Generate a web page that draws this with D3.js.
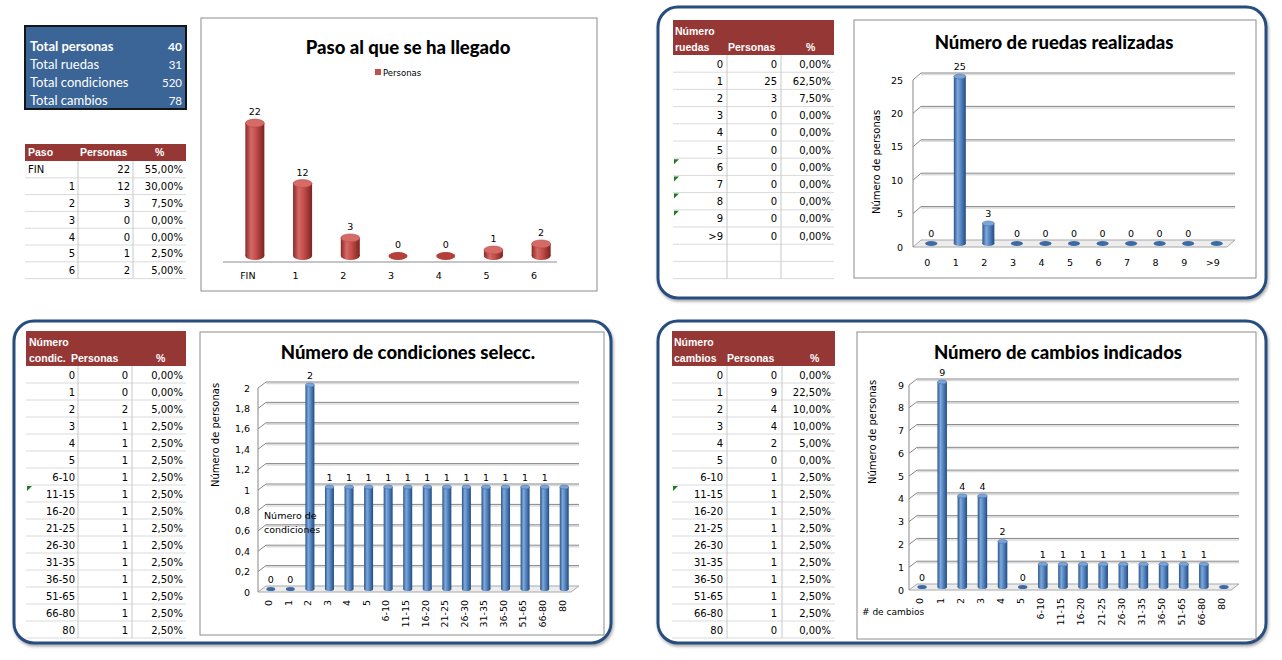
<!DOCTYPE html>
<html>
<head>
<meta charset="utf-8">
<script src="https://cdn.jsdelivr.net/npm/d3@7"></script>
<style>
body { margin: 0; background: #fff; }
svg { display: block; }
text { font-family: 'DejaVu Sans', sans-serif; fill: #000; }
</style>
</head>
<body>
<script>
// ---- data ----
const totalLabels = ['Total personas', 'Total ruedas', 'Total condiciones', 'Total cambios']
const totalValues = [40, 31, 520, 78]

const pasoCats = ['FIN', '1', '2', '3', '4', '5', '6']
const pasoPersonas = [22, 12, 3, 0, 0, 1, 2]
const pasoPct = [55, 30, 7.5, 0, 0, 2.5, 5]

const ruedasCats = ['0', '1', '2', '3', '4', '5', '6', '7', '8', '9', '>9']
const ruedasPersonas = [0, 25, 3, 0, 0, 0, 0, 0, 0, 0, 0]
const ruedasPct = [0, 62.5, 7.5, 0, 0, 0, 0, 0, 0, 0, 0]

const rangeCats = ['0', '1', '2', '3', '4', '5', '6-10', '11-15', '16-20', '21-25', '26-30', '31-35', '36-50', '51-65', '66-80', '80']
const condPersonas = [0, 0, 2, 1, 1, 1, 1, 1, 1, 1, 1, 1, 1, 1, 1, 1]
const condPct = [0, 0, 5, 2.5, 2.5, 2.5, 2.5, 2.5, 2.5, 2.5, 2.5, 2.5, 2.5, 2.5, 2.5, 2.5]
const cambiosPersonas = [0, 9, 4, 4, 2, 0, 1, 1, 1, 1, 1, 1, 1, 1, 1, 0]
const cambiosPct = [0, 22.5, 10, 10, 5, 0, 2.5, 2.5, 2.5, 2.5, 2.5, 2.5, 2.5, 2.5, 2.5, 0]

const ruedasTicks = [0, 5, 10, 15, 20, 25]
const condTicks = [0, 0.2, 0.4, 0.6, 0.8, 1, 1.2, 1.4, 1.6, 1.8, 2]
const cambiosTicks = [0, 1, 2, 3, 4, 5, 6, 7, 8, 9]

const pct = v => v.toFixed(2).replace('.', ',') + '%'
const comma = v => String(v).replace('.', ',')

const svg = d3.select('body').append('svg')
    .attr('width', 1282)
    .attr('height', 660)

const defs = svg.append('defs')

const grad = (id, stops) => {
    const lg = defs.append('linearGradient').attr('id', id)
        .attr('x1', '0%').attr('x2', '100%').attr('y1', '0%').attr('y2', '0%')
    stops.forEach(s => lg.append('stop').attr('offset', s[0]).attr('stop-color', s[1]))
}
grad('redBody', [['0%', '#8a2926'], ['30%', '#d36a66'], ['55%', '#c54f4b'], ['100%', '#7c231f']])
grad('blueBody', [['0%', '#2a5489'], ['32%', '#80a8da'], ['58%', '#5687c4'], ['100%', '#244c7e']])

const palette = {
    red: { body: 'url(#redBody)', top: '#d56b67', zero: '#b53f3b' },
    blue: { body: 'url(#blueBody)', top: '#7aa3d8', zero: '#3c6aa4' }
}

const shadow = defs.append('filter').attr('id', 'shadow')
    .attr('x', '-5%').attr('y', '-5%').attr('width', '110%').attr('height', '110%')
shadow.append('feDropShadow')
    .attr('dx', 1).attr('dy', 2).attr('stdDeviation', 1.5)
    .attr('flood-color', '#000').attr('flood-opacity', 0.35)

// ---- panels (rounded blue borders) ----
const panels = [[658, 7, 608, 291], [14, 321, 597, 322], [658, 321, 608, 322]]
svg.selectAll('.panel')
    .data(panels)
    .enter()
    .append('rect')
    .attr('class', 'panel')
    .attr('x', d => d[0]).attr('y', d => d[1])
    .attr('width', d => d[2]).attr('height', d => d[3])
    .attr('rx', 20)
    .attr('fill', '#fff')
    .attr('stroke', '#284d7e')
    .attr('stroke-width', 3)
    .attr('filter', 'url(#shadow)')

// ---- summary box ----
const box = svg.append('g')
box.append('rect')
    .attr('x', 25).attr('y', 26).attr('width', 161).attr('height', 83)
    .attr('fill', '#3b6596').attr('stroke', '#151515').attr('stroke-width', 2)

totalLabels.forEach((t, i) => {
    const yy = 51 + i * 18
    box.append('text')
        .attr('x', 30).attr('y', yy)
        .style('font-family', 'Lato, sans-serif').style('font-size', '13px')
        .style('font-weight', i === 0 ? 700 : 400)
        .style('fill', '#fff')
        .text(t)
    box.append('text')
        .attr('x', 182).attr('y', yy)
        .attr('text-anchor', 'end')
        .style('font-family', 'Lato, sans-serif').style('font-size', i === 0 ? '12px' : '11.5px')
        .style('font-weight', i === 0 ? 700 : 400)
        .style('fill', '#fff')
        .text(totalValues[i])
})

// ---- tables ----
const drawTable = cfg => {
    const g = svg.append('g')
    g.append('rect')
        .attr('x', cfg.x).attr('y', cfg.top)
        .attr('width', cfg.right - cfg.x).attr('height', cfg.hBottom - cfg.top)
        .attr('fill', '#953735')
    cfg.header.forEach(h => {
        g.append('text')
            .attr('x', h[1]).attr('y', h[2])
            .style('font-family', "'Liberation Sans', Arial, sans-serif")
            .style('font-weight', 700).style('font-size', '10.5px')
            .style('fill', '#fff')
            .text(h[0])
    })
    const n = cfg.cats.length + (cfg.extra || 0)
    const bottom = cfg.hBottom + n * cfg.rowH
    d3.range(1, n + 1).forEach(i => {
        g.append('line')
            .attr('x1', cfg.x).attr('x2', cfg.right)
            .attr('y1', cfg.hBottom + i * cfg.rowH).attr('y2', cfg.hBottom + i * cfg.rowH)
            .attr('stroke', '#dadada')
    })
    cfg.div.forEach(xx => {
        g.append('line')
            .attr('x1', xx).attr('x2', xx)
            .attr('y1', cfg.hBottom).attr('y2', bottom)
            .attr('stroke', '#c8c8c8')
    })
    cfg.cats.forEach((c, i) => {
        const yy = cfg.hBottom + i * cfg.rowH + cfg.rowH / 2 + 4
        const isText = isNaN(+c) && !/^[>0-9]/.test(c)
        g.append('text')
            .attr('x', isText ? cfg.x + 3 : cfg.cols[0])
            .attr('y', yy)
            .attr('text-anchor', isText ? 'start' : 'end')
            .style('font-size', '10px')
            .text(c)
        g.append('text')
            .attr('x', cfg.cols[1]).attr('y', yy)
            .attr('text-anchor', 'end').style('font-size', '10px')
            .text(cfg.vals[i])
        g.append('text')
            .attr('x', cfg.cols[2]).attr('y', yy)
            .attr('text-anchor', 'end').style('font-size', '10px')
            .text(pct(cfg.pcts[i]))
        if ((cfg.flags || []).includes(c)) {
            const ty = cfg.hBottom + i * cfg.rowH + 1
            g.append('path')
                .attr('d', `M${cfg.x + 1},${ty}L${cfg.x + 6},${ty}L${cfg.x + 1},${ty + 5}Z`)
                .attr('fill', '#1e7b1e')
        }
    })
}

drawTable({
    x: 25, right: 186, div: [78, 133], top: 144, hBottom: 161, rowH: 16.8,
    header: [['Paso', 28, 156], ['Personas', 80, 156], ['%', 155, 156]],
    cols: [75, 130, 183],
    cats: pasoCats, vals: pasoPersonas, pcts: pasoPct
})
drawTable({
    x: 673, right: 834, div: [727, 781], top: 20, hBottom: 55, rowH: 17.2, extra: 2,
    header: [['Número', 675, 35], ['ruedas', 675, 51], ['Personas', 728, 51], ['%', 806, 51]],
    cols: [723, 777, 831],
    cats: ruedasCats, vals: ruedasPersonas, pcts: ruedasPct,
    flags: ['6', '7', '8', '9']
})
drawTable({
    x: 26, right: 186, div: [78, 132], top: 331, hBottom: 366, rowH: 17,
    header: [['Número', 29, 346], ['condic.', 29, 362], ['Personas', 71, 362], ['%', 156, 362]],
    cols: [75, 128, 183],
    cats: rangeCats, vals: condPersonas, pcts: condPct,
    flags: ['11-15']
})
drawTable({
    x: 672, right: 835, div: [727, 782], top: 331, hBottom: 366, rowH: 17,
    header: [['Número', 674, 346], ['cambios', 674, 362], ['Personas', 727, 362], ['%', 810, 362]],
    cols: [723, 777, 831],
    cats: rangeCats, vals: cambiosPersonas, pcts: cambiosPct,
    flags: ['11-15']
})

// ---- 3D cylinder column charts ----
const drawChart = cfg => {
    const g = svg.append('g')
    g.append('rect')
        .attr('x', cfg.frame[0]).attr('y', cfg.frame[1])
        .attr('width', cfg.frame[2]).attr('height', cfg.frame[3])
        .attr('fill', '#fff').attr('stroke', '#8c8c8c')

    g.append('text')
        .attr('x', cfg.title[1]).attr('y', cfg.title[2])
        .attr('text-anchor', 'middle')
        .style('font-family', 'Lato, sans-serif').style('font-weight', 900).style('font-size', '18.5px')
        .text(cfg.title[0])

    const x = d3.scaleBand().domain(cfg.cats).range([cfg.x0, cfg.x1])
    const y = d3.scaleLinear().domain([0, cfg.yMax]).range([cfg.y0, cfg.yTop])
    const dx = cfg.dx, dy = cfg.dy

    if (cfg.ticks) {
        g.append('path')
            .attr('d', `M${cfg.x0},${cfg.y0}L${cfg.x0 + dx},${cfg.y0 + dy}L${cfg.x1 + dx},${cfg.y0 + dy}L${cfg.x1},${cfg.y0}Z`)
            .attr('fill', '#ededed').attr('stroke', '#a8a8a8')
        const grid = cfg.ticks.filter(t => t > 0)
        g.selectAll('.gridshade').data(grid).enter().append('path')
            .attr('d', t => `M${cfg.x0 + dx},${y(t) + dy + 1.5}L${cfg.x1 + dx},${y(t) + dy + 1.5}`)
            .attr('stroke', '#dcdcdc').attr('stroke-width', 1.5)
        g.selectAll('.grid').data(grid).enter().append('path')
            .attr('d', t => `M${cfg.x0},${y(t)}L${cfg.x0 + dx},${y(t) + dy}L${cfg.x1 + dx},${y(t) + dy}`)
            .attr('fill', 'none').attr('stroke', '#878787')
        g.append('line')
            .attr('x1', cfg.x0).attr('x2', cfg.x0)
            .attr('y1', cfg.y0).attr('y2', y(cfg.yMax))
            .attr('stroke', '#878787')
        g.selectAll('.tick').data(cfg.ticks).enter().append('text')
            .attr('x', cfg.tickX).attr('y', t => y(t) + 3.5)
            .attr('text-anchor', 'end').style('font-size', '9.5px')
            .text(comma)
    } else {
        g.append('line')
            .attr('x1', cfg.x0).attr('x2', cfg.x1)
            .attr('y1', cfg.y0).attr('y2', cfg.y0)
            .attr('stroke', '#8c8c8c')
    }

    const data = cfg.cats.map((c, i) => ({ c: c, v: cfg.vals[i], i: i }))
    const col = palette[cfg.color]
    const w = cfg.barW, ry = cfg.ry
    const bx = d => x(d.c) + x.bandwidth() / 2 + cfg.shift[0]
    const base = cfg.y0 + cfg.shift[1]
    const top = d => y(d.v) + cfg.shift[1]

    const bars = g.selectAll('.bar').data(data).enter().append('g')
    bars.filter(d => d.v > 0).append('ellipse')
        .attr('cx', bx).attr('cy', base).attr('rx', w / 2).attr('ry', ry)
        .attr('fill', col.body)
    bars.filter(d => d.v > 0).append('rect')
        .attr('x', d => bx(d) - w / 2).attr('y', top)
        .attr('width', w).attr('height', d => base - top(d))
        .attr('fill', col.body)
    bars.append('ellipse')
        .attr('cx', bx).attr('cy', top).attr('rx', w / 2).attr('ry', ry)
        .attr('fill', d => d.v > 0 ? col.top : col.zero)
        .attr('stroke', d => d.v > 0 ? col.zero : 'none').attr('stroke-width', 0.5)

    bars.filter(d => cfg.labelLast || d.i < data.length - 1).append('text')
        .attr('x', bx).attr('y', d => top(d) - ry - 4)
        .attr('text-anchor', 'middle').style('font-size', '9.5px')
        .text(d => d.v)

    if (cfg.rotate) {
        g.selectAll('.xl').data(cfg.cats).enter().append('text')
            .attr('transform', c => `translate(${x(c) + x.bandwidth() / 2 + 1},${cfg.labelY}) rotate(-90)`)
            .attr('text-anchor', 'end').attr('dy', '0.35em').style('font-size', '9.5px')
            .text(c => c)
    } else {
        g.selectAll('.xl').data(cfg.cats).enter().append('text')
            .attr('x', c => x(c) + x.bandwidth() / 2 + (cfg.labelShift || 0))
            .attr('y', cfg.labelY)
            .attr('text-anchor', 'middle').style('font-size', '9.5px')
            .text(c => c)
    }

    if (cfg.yTitle) {
        g.append('text')
            .attr('transform', `translate(${cfg.yTitle[1]},${cfg.yTitle[2]}) rotate(-90)`)
            .attr('text-anchor', 'middle').style('font-size', '10px')
            .text(cfg.yTitle[0])
    }
    return g
}

const c1 = drawChart({
    frame: [201, 18, 396, 273], title: ['Paso al que se ha llegado', 408, 54],
    cats: pasoCats, vals: pasoPersonas, color: 'red',
    x0: 223, x1: 557, y0: 262, yTop: 111, yMax: 25, dx: 8, dy: -6,
    shift: [8, -6], barW: 19, ry: 4, labelY: 279, labelShift: 1, labelLast: true
})
c1.append('rect').attr('x', 375).attr('y', 69).attr('width', 6).attr('height', 6).attr('fill', '#c0504d')
c1.append('text').attr('x', 383).attr('y', 76).style('font-size', '8.5px').text('Personas')

drawChart({
    frame: [854, 20, 402, 258], title: ['Número de ruedas realizadas', 1054, 49],
    cats: ruedasCats, vals: ruedasPersonas, color: 'blue',
    x0: 913, x1: 1227, y0: 247, yTop: 80, yMax: 25, dx: 8, dy: -7, ticks: ruedasTicks, tickX: 903,
    shift: [4, -3.5], barW: 12, ry: 2.5, labelY: 266, labelShift: 0,
    yTitle: ['Número de personas', 880, 162]
})

const c3 = drawChart({
    frame: [200, 332, 404, 303], title: ['Número de condiciones selecc.', 408, 359],
    cats: rangeCats, vals: condPersonas, color: 'blue',
    x0: 258, x1: 571, y0: 592, yTop: 388, yMax: 2, dx: 8, dy: -6, ticks: condTicks, tickX: 250,
    shift: [3, -3], barW: 9, ry: 2, labelY: 600, rotate: true,
    yTitle: ['Número de personas', 219, 435]
})
c3.append('text').attr('x', 264).attr('y', 519).style('font-size', '9.5px').text('Número de')
c3.append('text').attr('x', 264).attr('y', 533).style('font-size', '9.5px').text('condiciones')

const c4 = drawChart({
    frame: [857, 332, 399, 307], title: ['Número de cambios indicados', 1058, 359],
    cats: rangeCats, vals: cambiosPersonas, color: 'blue',
    x0: 909, x1: 1231, y0: 590, yTop: 385, yMax: 9, dx: 8, dy: -6, ticks: cambiosTicks, tickX: 904,
    shift: [3, -3], barW: 9.5, ry: 2, labelY: 598, rotate: true,
    yTitle: ['Número de personas', 876, 432]
})
c4.append('text').attr('x', 862).attr('y', 615).style('font-size', '9px').text('# de cambios')
</script>
</body>
</html>
